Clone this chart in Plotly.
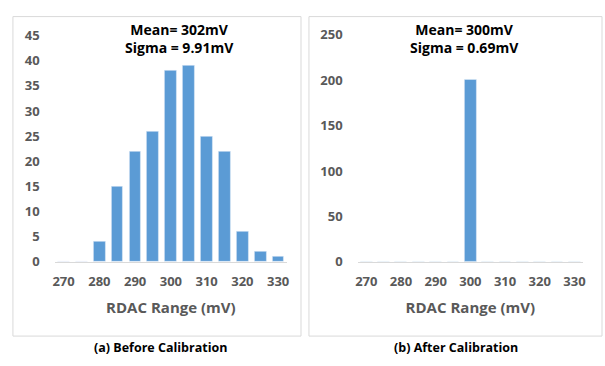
import plotly.graph_objects as go

bins = [270, 275, 280, 285, 290, 295, 300, 305, 310, 315, 320, 325, 330]
before_counts = [0, 0, 4, 15, 22, 26, 38, 39, 25, 22, 6, 2, 1]
after_counts = [0, 0, 0, 0, 0, 0, 200, 0, 0, 0, 0, 0, 0]
x_ticks = [270, 280, 290, 300, 310, 320, 330]
titles = ["Mean= 302mV<br>Sigma = 9.91mV", "Mean= 300mV<br>Sigma = 0.69mV"]
captions = ["(a) Before Calibration", "(b) After Calibration"]
x_title = "RDAC Range (mV)"

W, H = 605, 366
BAR = "#5B9BD5"
GRAY = "#595959"
FONT = "Open Sans"

def px(x):
    return x / W

def py(y):
    return 1 - y / H

fig = go.Figure()
fig.add_trace(go.Bar(x=bins, y=before_counts, width=3.3, marker_color=BAR,
                     xaxis="x", yaxis="y", showlegend=False))
fig.add_trace(go.Bar(x=bins, y=after_counts, width=3.4, marker_color=BAR,
                     xaxis="x2", yaxis="y2", showlegend=False))

xcommon = dict(tickvals=x_ticks, range=[267.5, 332.5], showgrid=False, zeroline=False,
               showline=True, linecolor="#d9d9d9", linewidth=1, ticks="",
               tickfont=dict(family=FONT, size=13, color=GRAY, weight="bold"),
               ticklabelstandoff=7,
               title=dict(text=x_title, font=dict(family=FONT, size=15, color=GRAY, weight="bold"),
                          standoff=13))
ycommon = dict(showgrid=False, zeroline=False, showline=False, ticks="",
               tickfont=dict(family=FONT, size=13, color=GRAY, weight="bold"),
               ticklabelstandoff=14)

fig.update_layout(
    width=W, height=H, margin=dict(l=0, r=0, t=0, b=0),
    paper_bgcolor="white", plot_bgcolor="white",
    xaxis=dict(domain=[px(53), px(287)], anchor="y", **xcommon),
    yaxis=dict(domain=[py(266), py(28)], anchor="x", range=[0, 45], dtick=5, **ycommon),
    xaxis2=dict(domain=[px(358), px(585)], anchor="y2", **xcommon),
    yaxis2=dict(domain=[py(266), py(27)], anchor="x2", range=[0, 250], dtick=50, **ycommon),
    bargap=0,
)

# panel borders
for x0, x1 in [(11, 301), (309, 604)]:
    fig.add_shape(type="rect", xref="paper", yref="paper",
                  x0=px(x0), x1=px(x1), y0=py(344), y1=py(8),
                  line=dict(color="#d9d9d9", width=1), fillcolor="rgba(0,0,0,0)")

for cx, t in zip([179, 466], titles):
    fig.add_annotation(x=px(cx), y=py(31), xref="paper", yref="paper", text=t,
                       showarrow=False, xanchor="center", yanchor="middle",
                       font=dict(family=FONT, size=14, color="black", weight="bold"))

for cx, t in zip([160, 457], captions):
    fig.add_annotation(x=px(cx), y=py(356), xref="paper", yref="paper", text=t,
                       showarrow=False, xanchor="center", yanchor="middle",
                       font=dict(family=FONT, size=12.5, color="black", weight="bold"))

fig.write_html("out.html", config={"displayModeBar": False},
               post_script="document.body.style.margin='0';document.body.style.overflow='hidden';")
